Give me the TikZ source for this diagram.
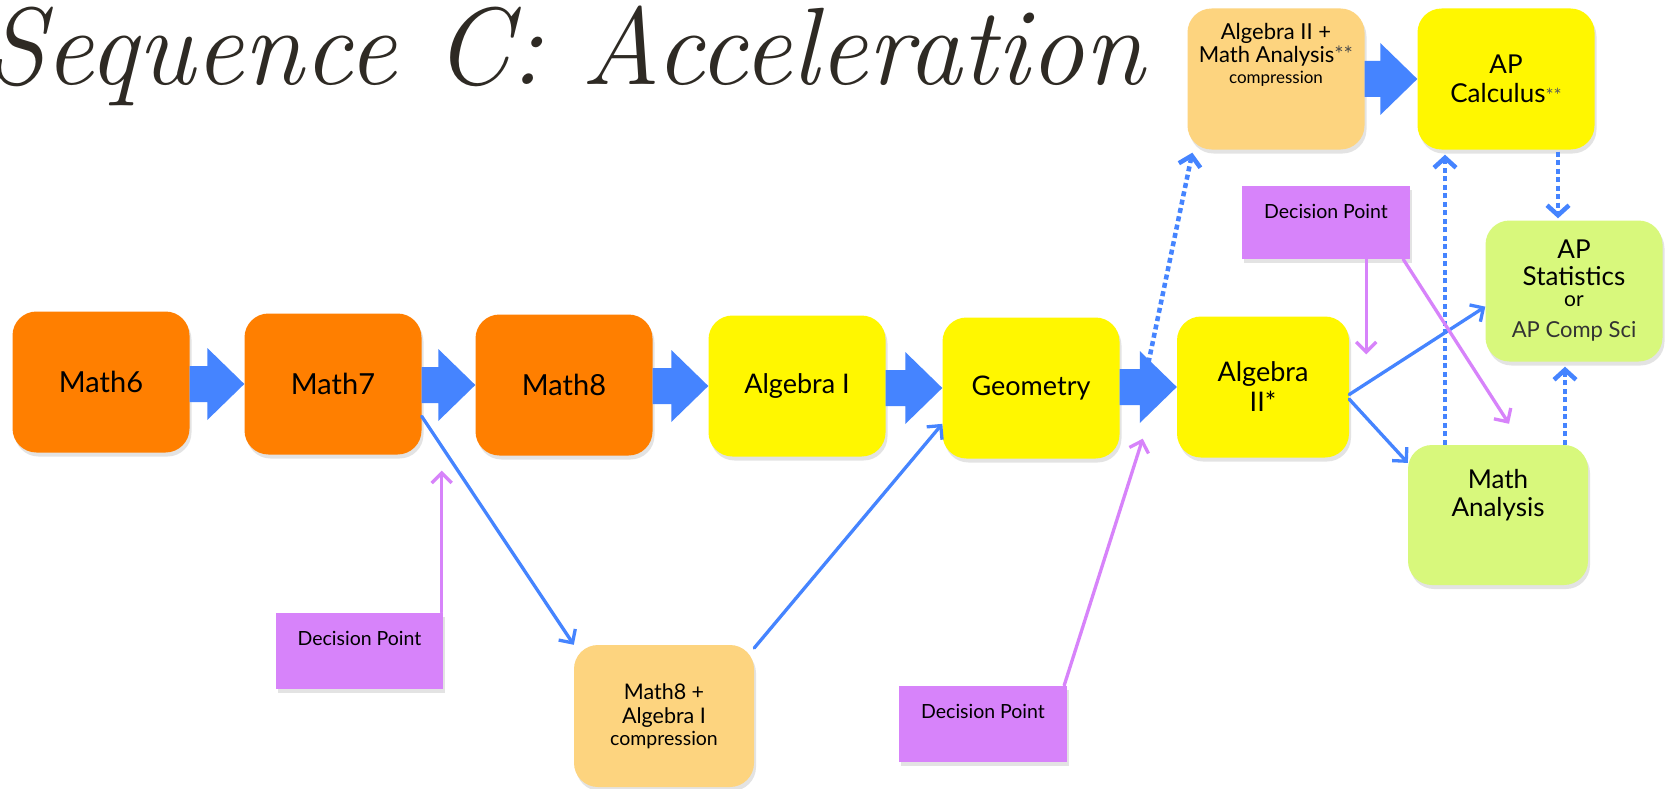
\documentclass[tikz,border=0pt]{standalone}
\usepackage{fontspec}
\newfontfamily\gsans{Lato}
\usetikzlibrary{arrows.meta,calc,shadows}
\definecolor{cOrange}{HTML}{FF7F00}
\definecolor{cYellow}{HTML}{FFF700}
\definecolor{cPeach}{HTML}{FDD47F}
\definecolor{cGreen}{HTML}{D8F87C}
\definecolor{cPurple}{HTML}{D783FA}
\definecolor{cBlue}{HTML}{4584FF}
\definecolor{cTitle}{HTML}{2E2A24}
\newcommand\setfs[2]{\fontsize{#1}{#2}\selectfont}
\newcommand\fatarrow[2]{\fill[cBlue] let \p1=(#1.east), \p2=(#2.west) in
  (\x1,\y2+18pt) -- (\x2-37pt,\y2+18pt) -- (\x2-37pt,\y2+36pt) -- (\x2,\y2)
  -- (\x2-37pt,\y2-36pt) -- (\x2-37pt,\y2-18pt) -- (\x1,\y2-18pt) -- cycle;}
\tikzset{
  box/.style={rounded corners=24pt, minimum width=177pt, minimum height=141pt,
    inner sep=0pt, align=center, text=black,
    drop shadow={shadow xshift=2pt,shadow yshift=-4pt,opacity=0.22}},
  dbox/.style={fill=cPurple, minimum width=167pt, minimum height=76pt, inner sep=0pt,
    drop shadow={shadow xshift=2pt,shadow yshift=-4pt,opacity=0.22}},
  txt/.style={align=center, inner sep=0pt, text=black},
  conn/.style={draw=cBlue, line width=3.3pt, line cap=round,
    -{Straight Barb[length=10pt,width=20pt]}},
  dline/.style={draw=cPurple, line width=3.3pt, line cap=round,
    -{Straight Barb[length=10pt,width=20pt]}},
  dotline/.style={draw=cBlue, line width=4.5pt, dash pattern=on 5pt off 3.5pt,
    -{Straight Barb[length=10pt,width=22pt]}}
}
\begin{document}
\begin{tikzpicture}[x=1pt,y=-1pt]
\useasboundingbox (0,0) rectangle (1669,789);
\fill[white] (0,0) rectangle (1669,789);
\clip (0,0) rectangle (1669,789);

% title
\node[anchor=base east, inner sep=0pt, text=cTitle, font=\itshape\setfs{110}{110}] (title) at (1144,85)
  {\scalebox{0.99}[1]{Sequence C: Acceleration}};

% main boxes
\node[box, fill=cOrange, font=\gsans\setfs{29}{32}] (m6) at (101,382) {Math6};
\node[box, fill=cOrange, font=\gsans\setfs{29}{32}] (m7) at (333,384) {Math7};
\node[box, fill=cOrange, font=\gsans\setfs{29}{32}] (m8) at (564,385) {Math8};
\node[box, fill=cYellow, font=\gsans\setfs{27}{30}] (a1) at (797,386) {Algebra I};
\node[box, fill=cYellow, font=\gsans\setfs{27}{30}] (geo) at (1031,388) {Geometry};
\node[box, fill=cYellow, font=\gsans\setfs{27}{30}, minimum width=172pt] (a2) at (1263,387) {Algebra\\II*};
\node[box, fill=cPeach] (comp) at (1276,79) {};
\node[box, fill=cYellow, font=\gsans\setfs{26}{29}] (calc) at (1506,79)
  {AP\\Calculus{\setfs{19}{19}\color{gray!70!black}**}};
\node[box, fill=cGreen, font=\gsans\setfs{26}{27}] (stat) at (1574,291)
  {AP\\Statistics\\[-6pt]{\setfs{21}{20}or}\\[4pt]{\setfs{22}{20}\color{black!80}AP Comp Sci}};
\node[box, fill=cGreen, minimum width=180pt, minimum height=140pt] (ma) at (1498,515) {};
\node[box, fill=cPeach, minimum width=180pt, minimum height=142pt, font=\gsans\setfs{21.5}{24}] (m8c) at (664,716)
  {Math8 +\\Algebra I\\[-2pt]{\setfs{19.5}{18}compression}};

% texts placed high in their boxes
\node[txt, font=\gsans\setfs{22}{23}] (compT) at ($(comp.center)+(0,-24)$)
  {Algebra II +\\Math Analysis{\color{gray!60!black}**}\\[-2pt]{\setfs{17}{16}compression}};
\node[txt, font=\gsans\setfs{26}{28}] (maT) at ($(ma.center)+(0,-20)$) {Math\\Analysis};

% decision points
\node[dbox] (dp1) at (359.5,650.5) {};
\node[txt, font=\gsans\setfs{19.5}{20}] (dp1T) at ($(dp1.center)+(0,-12)$) {Decision Point};
\node[dbox, minimum width=168pt] (dp2) at (983,723.5) {};
\node[txt, font=\gsans\setfs{19.5}{20}] (dp2T) at ($(dp2.center)+(0,-12)$) {Decision Point};
\node[dbox, minimum width=168pt, minimum height=73pt] (dp3) at (1326,222.5) {};
\node[txt, font=\gsans\setfs{19.5}{20}] (dp3T) at ($(dp3.center)+(0,-11)$) {Decision Point};

% fat arrows
\fatarrow{m6}{m7}
\fatarrow{m7}{m8}
\fatarrow{m8}{a1}
\fatarrow{a1}{geo}
\fatarrow{geo}{a2}
\fatarrow{comp}{calc}

% thin blue connectors
\draw[conn] (m7.-20) -- (m8c.north west);
\draw[conn] (m8c.37) -- (geo.-158);
\draw[conn] (a2.-5) -- (stat.-170);
\draw[conn] (a2.-8) -- (ma.150);

% dotted connectors
\coordinate (dotA) at ($(geo.east)+(27,-17)$);
\draw[dotline] (dotA) -- ($(comp.south west)+(5,3)$);
\draw[dotline] ($(ma.north)+(-53,0)$) -- ($(calc.south)+(-61,5)$);
\draw[dotline] ($(calc.south)+(52,2)$) -- ($(stat.north)+(-16,-2)$);
\draw[dotline] ($(ma.north)+(67,0)$) -- ($(stat.south)+(-9,5)$);

% decision connectors
\coordinate (dp1tip) at ($(m7.south east)+(20,16)$);
\draw[dline] (dp1tip |- dp1.north) -- (dp1tip);
\coordinate (dp2tip) at ($(geo.south east)+(23,-20)$);
\draw[dline] ($(dp2.north east)+(-3,0)$) -- (dp2tip);
\coordinate (dp3tipA) at ($(a2.north east)+(17,38)$);
\draw[dline] (dp3tipA |- dp3.south) -- (dp3tipA);
\coordinate (dp3tipB) at ($(ma.north)+(11,-21)$);
\draw[dline] ($(dp3.south east)+(-7,0)$) -- (dp3tipB);
\end{tikzpicture}
\end{document}
